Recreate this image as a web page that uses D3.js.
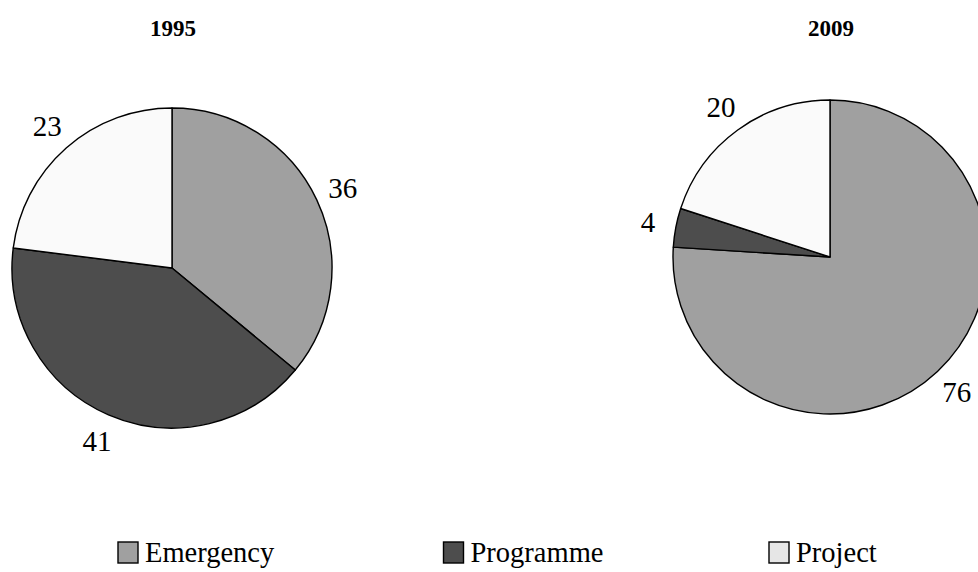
<!DOCTYPE html>
<html>
<head>
<meta charset="utf-8">
<script src="https://cdn.jsdelivr.net/npm/d3@7"></script>
<style>
  html, body { margin: 0; padding: 0; background: #fff; }
  svg { display: block; }
</style>
</head>
<body>
<svg id="chart" width="978" height="572"></svg>
<script>
// Aid by type, share of total (%)
const categories = ["Emergency", "Programme", "Project"];
const years = ["1995", "2009"];
const values1995 = [36, 41, 23];
const values2009 = [76, 4, 20];

const sliceColors = ["#a0a0a0", "#4d4d4d", "#fafafa"];
const legendColors = ["#a0a0a0", "#4d4d4d", "#e6e6e6"];

const svg = d3.select("#chart");
const W = 978, H = 572;
svg.append("rect").attr("width", W).attr("height", H).attr("fill", "#fff");

const serif = "'Liberation Serif', 'Times New Roman', serif";

const pies = [
  { year: years[0], values: values1995, cx: 172, cy: 268, r: 160 },
  { year: years[1], values: values2009, cx: 830, cy: 257, r: 157 }
];

const pie = d3.pie().sort(null).value(d => d.value);
const color = d3.scaleOrdinal().domain(categories).range(sliceColors);

pies.forEach(p => {
  const data = categories.map((c, i) => ({ cat: c, value: p.values[i] }));
  const arcs = pie(data);
  const arc = d3.arc().innerRadius(0).outerRadius(p.r);
  const labelArc = d3.arc().innerRadius(p.r * 1.18).outerRadius(p.r * 1.18);

  const g = svg.append("g").attr("transform", `translate(${p.cx},${p.cy})`);

  g.selectAll("path")
    .data(arcs)
    .join("path")
    .attr("d", arc)
    .attr("fill", d => color(d.data.cat))
    .attr("stroke", "#000")
    .attr("stroke-width", 1.4)
    .attr("stroke-linejoin", "round");

  g.selectAll("text.lbl")
    .data(arcs)
    .join("text")
    .attr("class", "lbl")
    .attr("transform", d => `translate(${labelArc.centroid(d)})`)
    .attr("text-anchor", "middle")
    .attr("dominant-baseline", "central")
    .attr("font-family", serif)
    .attr("font-size", 29)
    .attr("fill", "#000")
    .text(d => d.data.value);

  svg.append("text")
    .attr("x", p.cx + 1)
    .attr("y", 36)
    .attr("text-anchor", "middle")
    .attr("font-family", serif)
    .attr("font-weight", "bold")
    .attr("font-size", 23)
    .attr("fill", "#000")
    .text(p.year);
});

// Legend along the bottom
const legendX = d3.scalePoint().domain(categories).range([118, 769]);
const lg = svg.append("g");
const items = lg.selectAll("g")
  .data(categories)
  .join("g")
  .attr("transform", d => `translate(${legendX(d)},542)`);

items.append("rect")
  .attr("width", 20)
  .attr("height", 21)
  .attr("fill", (d, i) => legendColors[i])
  .attr("stroke", "#000")
  .attr("stroke-width", 1.4);

items.append("text")
  .attr("x", 27)
  .attr("y", 20)
  .attr("font-family", serif)
  .attr("font-size", 28.5)
  .attr("fill", "#000")
  .text(d => d);
</script>
</body>
</html>
